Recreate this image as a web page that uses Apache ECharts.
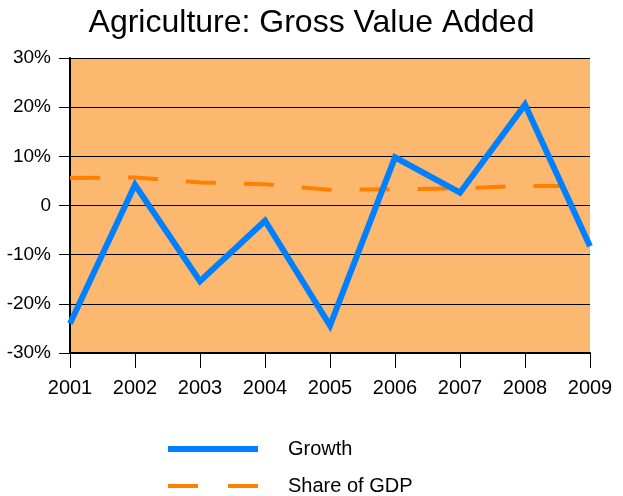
<!DOCTYPE html>
<html><head><meta charset="utf-8">
<script src="https://cdn.jsdelivr.net/npm/echarts@6/dist/echarts.min.js"></script>
<style>html,body{margin:0;padding:0;background:#fff}#c{width:623px;height:496px}</style>
</head><body><div id="c"></div>
<script>
const years = ['2001','2002','2003','2004','2005','2006','2007','2008','2009'];
const growth = [-24, 4.2, -15.4, -3.1, -24.4, 9.8, 2.6, 20.5, -8.3];
const shareOfGDP = [5.6, 5.7, 4.7, 4.3, 3.2, 3.3, 3.5, 4.0, 3.9];
const yTicks = [-30, -20, -10, 0, 10, 20, 30];

const chart = echarts.init(document.getElementById('c'));
const font = 'Liberation Sans, Arial, sans-serif';
const legendText = {fontFamily: font, fontSize: 20, color: '#000', padding: [0,0,0,25]};
chart.setOption({
  animation: false,
  backgroundColor: '#fff',
  title: {text: 'Agriculture: Gross Value Added', left: 'center', top: 2,
    textStyle: {fontFamily: font, fontSize: 32, fontWeight: 'normal', color: '#000'}},
  grid: {left: 70, right: 33, top: 58, bottom: 143, show: true, backgroundColor: '#fdb870', borderWidth: 0},
  legend: [
    {orient: 'vertical', left: 168, top: 439, padding: 0, itemWidth: 90, itemHeight: 6,
      textStyle: legendText,
      data: [{name: 'Growth', icon: 'rect', itemStyle: {color: '#0080ff'}}]},
    {orient: 'vertical', left: 168, top: 476, padding: 0, itemWidth: 90, itemHeight: 4,
      textStyle: legendText,
      data: [{name: 'Share of GDP', icon: 'path://M0,0h30v4h-30z M60,0h30v4h-30z', itemStyle: {color: '#ff8000'}}]}
  ],
  xAxis: {type: 'category', data: years, boundaryGap: false,
    axisLine: {onZero: false, lineStyle: {color: '#000', width: 2}},
    axisTick: {show: true, length: 15, lineStyle: {color: '#000', width: 1}},
    axisLabel: {fontFamily: font, fontSize: 20, color: '#000', margin: 25},
    splitLine: {show: false}},
  yAxis: {type: 'value', min: -30, max: 30, interval: 10,
    axisLine: {show: true, lineStyle: {color: '#000', width: 2}},
    axisTick: {show: true, length: 11, lineStyle: {color: '#000', width: 1}},
    axisLabel: {fontFamily: font, fontSize: 19, color: '#000', margin: 19,
      formatter: v => yTicks.includes(v) ? (v === 0 ? '0' : v + '%') : ''},
    splitLine: {show: true, lineStyle: {color: '#000', width: 1}}},
  series: [
    {name: 'Growth', type: 'line', data: growth, symbol: 'none',
      lineStyle: {color: '#0080ff', width: 6, join: 'miter'}, itemStyle: {color: '#0080ff'}, z: 3},
    {name: 'Share of GDP', type: 'line', data: shareOfGDP, symbol: 'none',
      lineStyle: {color: '#ff8000', width: 4, type: [30, 28]}, itemStyle: {color: '#ff8000'}, z: 2}
  ]
});
</script></body></html>
